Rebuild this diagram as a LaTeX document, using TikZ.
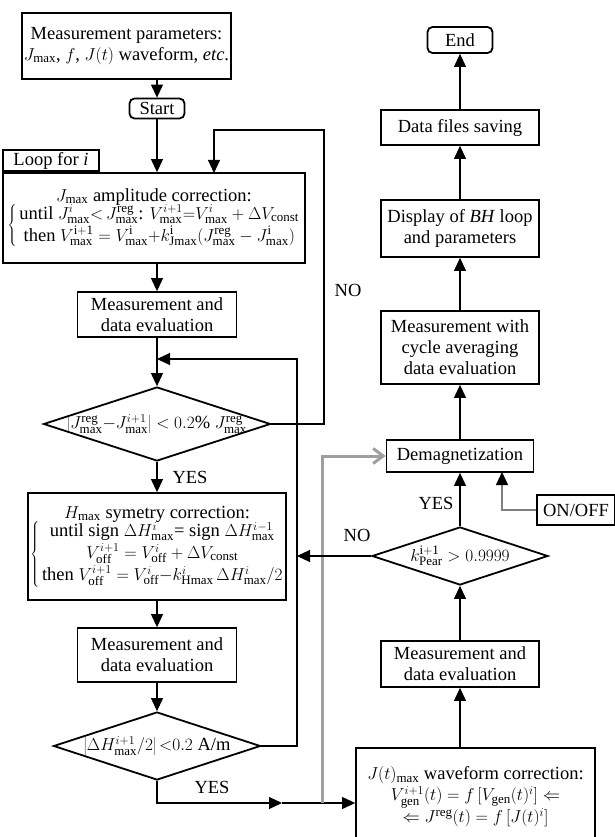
\documentclass[tikz,border=0pt]{standalone}
\usepackage{fontspec}
\setmainfont{Liberation Serif}
\usetikzlibrary{shapes.geometric,arrows.meta}

\begin{document}
\begin{tikzpicture}[x=1pt,y=-1pt,
  font=\fontsize{18.5}{21}\selectfont,
  >={Triangle[length=13pt,width=12pt]},
  box/.style={draw, line width=1.8pt, align=center, inner sep=2pt},
  rbox/.style={box, rounded corners=5pt},
  dec/.style={draw, diamond, line width=1.8pt, inner sep=0pt},
  line/.style={line width=1.1pt},
  gline/.style={draw=gray!75, line width=3pt}]

\useasboundingbox (0,0) rectangle (615,837);

\node[box, minimum width=155pt, minimum height=66pt] (par) at (126.5,46) {Measurement parameters:\\ $J_\mathrm{max}$, $f$, $J(t)$ waveform, \textit{etc}.};
\node[rbox, minimum width=55pt, minimum height=20pt] (st) at (157,108.5) {Start};

\node[box, minimum width=302pt, minimum height=90pt] (amp) at (154,218) {$J_\mathrm{max}$ amplitude correction:\\[-2pt]
  $\left\{\,\begin{tabular}{@{}c@{}}until $J^i_\mathrm{max}{<}\,J^\mathrm{reg}_\mathrm{max}$: $V^{i+1}_\mathrm{max}{=}V^i_\mathrm{max}+\Delta V_\mathrm{const}$\\[1pt]
  then $V^\mathrm{i+1}_\mathrm{max}=V^\mathrm{i}_\mathrm{max}{+}k^\mathrm{i}_\mathrm{Jmax}(J^\mathrm{reg}_\mathrm{max}-J^\mathrm{i}_\mathrm{max})$\end{tabular}\right.$};
\node[box, anchor=south west, minimum width=96pt, minimum height=21pt] (lp) at (amp.north west) {Loop for \textit{i}};

\node[box, minimum width=159pt, minimum height=45pt] (m1) at (157,314.5) {Measurement and\\ data evaluation};
\node[dec, minimum width=227pt, minimum height=74pt] (d1) at (157,424) {\makebox[0pt]{$\left|J^\mathrm{reg}_\mathrm{max}{-}J^{i+1}_\mathrm{max}\right|< 0.2\%\ J^\mathrm{reg}_\mathrm{max}$}};

\node[box, minimum width=253pt, minimum height=107pt] (hm) at (157,546.5) {$H_\mathrm{max}$ symetry correction:\\[-2pt]
  $\left\{\,\begin{tabular}{@{}c@{}}until sign $\Delta H^i_\mathrm{max}$= sign $\Delta H^{i-1}_\mathrm{max}$\\[1pt]
  $V^{i+1}_\mathrm{off}=V^i_\mathrm{off}+\Delta V_\mathrm{const}$\\[1pt]
  then $V^{i+1}_\mathrm{off}=V^i_\mathrm{off}{-}k^i_\mathrm{Hmax}\,\Delta H^i_\mathrm{max}/2$\end{tabular}\right.$};

\node[box, minimum width=159pt, minimum height=54pt] (m2) at (157,655) {Measurement and\\ data evaluation};
\node[dec, minimum width=207pt, minimum height=68pt] (d2) at (157,746) {\makebox[0pt]{$\left|\Delta H^{i+1}_\mathrm{max}/2\right|{<}0.2$ A/m}};

\node[rbox, minimum width=65pt, minimum height=26pt] (en) at (460,40) {End};
\node[box, minimum width=158pt, minimum height=35pt] (fs) at (460,127.5) {Data files saving};
\node[box, minimum width=158pt, minimum height=57pt] (dp) at (460,228.5) {Display of \textit{BH} loop\\ and parameters};
\node[box, minimum width=158pt, minimum height=73pt] (av) at (460,347.5) {Measurement with\\ cycle averaging\\ data evaluation};
\node[box, minimum width=147pt, minimum height=32pt] (dm) at (460,456) {Demagnetization};
\node[box, minimum width=78pt, minimum height=30pt] (oo) at (576,510) {ON/OFF};
\node[dec, minimum width=176pt, minimum height=58pt] (d3) at (460,556) {\makebox[0pt]{$k^\mathrm{i+1}_\mathrm{Pear}>0.9999$}};
\node[box, minimum width=158pt, minimum height=46pt] (m3) at (460,664) {Measurement and\\ data evaluation};
\node[box, minimum width=239pt, minimum height=98pt] (jb) at (475.5,797) {$J(t)_\mathrm{max}$ waveform correction:\\
  $V^{i+1}_\mathrm{gen}(t)=f\,[V_\mathrm{gen}(t)^i]\Leftarrow$\\
  $\Leftarrow J^\mathrm{reg}(t)=f\,[J(t)^i]$};

\node (yes1) at (190,477) {YES};
\node (no1) at (348,290) {NO};
\node (yes2) at (212,787) {YES};
\node (yes3) at (436,503) {YES};
\node (no3) at (357,535) {NO};

\coordinate (c1) at (324,130);
\coordinate (a1) at (214,173);
\coordinate (c2) at (297,359);
\coordinate (ym) at (282,803);
\coordinate (g0) at (322,803);
\coordinate (c3) at (502,472);

\draw[line,->] (par.south -| st) -- (st.north);
\draw[line,->] (st.south) -- (st.south |- amp.north);
\draw[line,->] (amp.south -| m1) -- (m1.north);
\draw[line,->] (m1.south) -- (d1.north);
\draw[line,->] (d1.south) -- (hm.north);
\draw[line,->] (hm.south) -- (m2.north);
\draw[line,->] (m2.south) -- (d2.north);

\draw[line,->] (d1.east) -| (c1) -| (a1);
\draw[line,->] (d2.east) -| (c2) -- (c2 -| m1.south);
\draw[line,->] (d2.south) |- (ym);
\draw[line,->] (ym) -- (ym -| jb.west);
\draw[gline,-{Straight Barb[length=10pt,width=15pt]}] (g0) |- (dm.west);

\draw[line,->] (jb.north -| m3) -- (m3.south);
\draw[line,->] (m3.north) -- (d3.south);
\draw[line,->] (d3.north) -- (dm.south);
\draw[line,->] (d3.west) -- (d3.west -| c2);
\draw[draw=gray, line width=1.2pt, -{Triangle[length=13pt,width=12pt,black]}] (oo.west) -| (c3);
\draw[line,->] (dm.north) -- (av.south);
\draw[line,->] (av.north) -- (dp.south);
\draw[line,->] (dp.north) -- (fs.south);
\draw[line,->] (fs.north) -- (en.south);

\end{tikzpicture}
\end{document}
